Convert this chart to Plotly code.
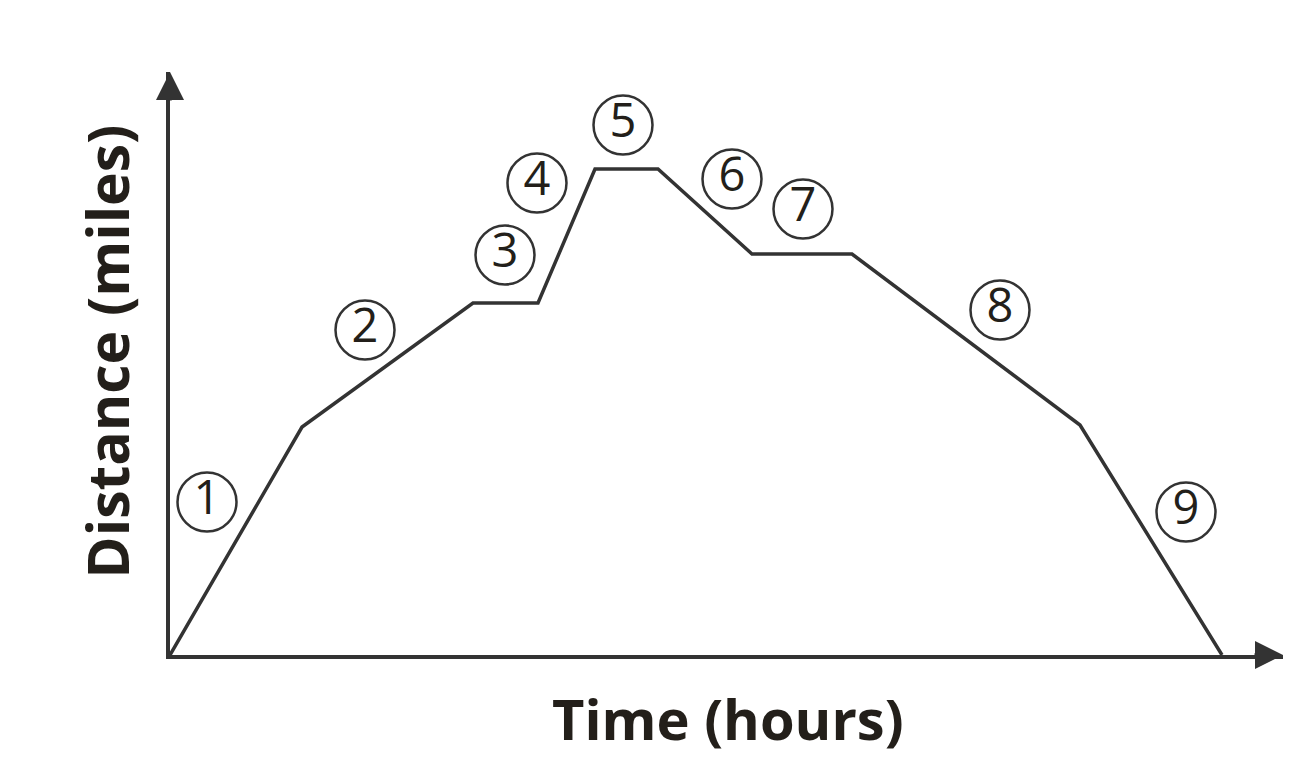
import plotly.graph_objects as go

# Data (arbitrary units)
time_pts = [0, 13.2, 30.3, 36.8, 42.5, 48.8, 58.2, 68.2, 91.0, 105.2]
dist_pts = [0, 22.8, 35.2, 35.2, 48.6, 48.6, 40.1, 40.1, 23.0, 0]

seg_labels = ["1", "2", "3", "4", "5", "6", "7", "8", "9"]
label_x = [3.7, 19.5, 33.5, 36.7, 45.3, 56.2, 63.3, 83.0, 101.6]
label_y = [15.3, 32.5, 40.0, 47.2, 53.0, 47.6, 44.6, 34.5, 14.3]

X_MAX = 111.3
Y_MAX = 58.3
INK = "#333333"
TXT = "#231f1a"

fig = go.Figure()
fig.add_trace(go.Scatter(
    x=time_pts, y=dist_pts, mode="lines",
    line=dict(color=INK, width=3.5), hoverinfo="skip", showlegend=False,
))
fig.add_trace(go.Scatter(
    x=label_x, y=label_y, mode="markers+text", text=seg_labels,
    textposition="middle center",
    textfont=dict(family="Open Sans", size=47, color=TXT),
    marker=dict(symbol="circle-open", size=59, color=INK, line=dict(width=2.5, color=INK)),
    hoverinfo="skip", showlegend=False,
))

# axis arrowheads
fig.add_annotation(x=X_MAX, y=0, ax=X_MAX - 3, ay=0, xref="x", yref="y", axref="x", ayref="y",
                   showarrow=True, arrowhead=2, arrowsize=1.6, arrowwidth=3.5, arrowcolor=INK, text="")
fig.add_annotation(x=0, y=Y_MAX, ax=0, ay=Y_MAX - 3, xref="x", yref="y", axref="x", ayref="y",
                   showarrow=True, arrowhead=2, arrowsize=1.6, arrowwidth=3.5, arrowcolor=INK, text="")

# axis titles
fig.add_annotation(x=0.5013, y=-0.108, xref="paper", yref="paper", showarrow=False,
                   text="<b>Time (hours)</b>", xanchor="center", yanchor="middle",
                   font=dict(family="Open Sans", size=56, color=TXT))
fig.add_annotation(x=-0.057, y=0.52, xref="paper", yref="paper", showarrow=False,
                   text="<b>Distance (miles)</b>", textangle=-90, xanchor="center", yanchor="middle",
                   font=dict(family="Open Sans", size=57, color=TXT))

fig.update_xaxes(range=[0, X_MAX], showgrid=False, zeroline=False, showticklabels=False,
                 ticks="", showline=True, linecolor=INK, linewidth=4)
fig.update_yaxes(range=[0, Y_MAX], showgrid=False, zeroline=False, showticklabels=False,
                 ticks="", showline=True, linecolor=INK, linewidth=4)

fig.update_layout(
    width=1305, height=765,
    margin=dict(l=162, r=30, t=64, b=118),
    paper_bgcolor="white", plot_bgcolor="white",
)
fig.write_html("out.html")
